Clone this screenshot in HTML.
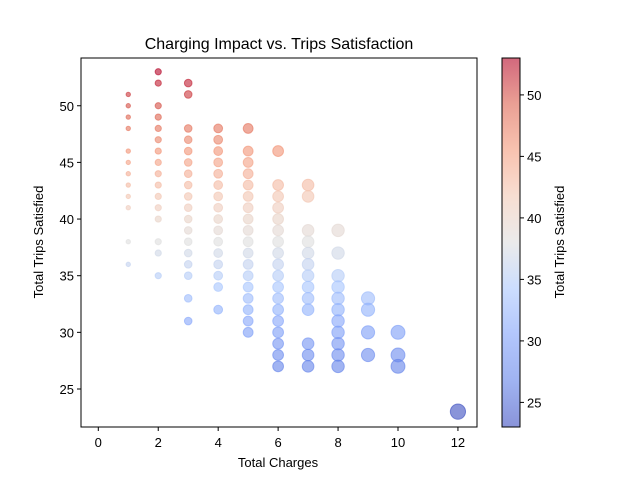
<!DOCTYPE html>
<html><head><meta charset="utf-8"><style>
body{margin:0;background:#fff;}
svg text{font-family:"Liberation Sans","DejaVu Sans",sans-serif;fill:#000;}
</style></head><body>
<svg id="chart" width="640" height="480" viewBox="0 0 640 480" xmlns="http://www.w3.org/2000/svg">
<defs><linearGradient id="cbg" x1="0" y1="1" x2="0" y2="0"></linearGradient></defs>
<text x="279" y="49" font-size="16" text-anchor="middle">Charging Impact vs. Trips Satisfaction</text>
<g id="points"></g>
<rect x="81" y="58" width="396" height="369" fill="none" stroke="#000" stroke-width="1"/>
<g id="axes"></g>
<text x="278" y="467" font-size="13" text-anchor="middle">Total Charges</text>
<text transform="translate(43,242) rotate(-90)" font-size="13" text-anchor="middle">Total Trips Satisfied</text>
<rect id="cbar" x="502" y="58" width="18" height="369" fill="url(#cbg)" stroke="#000" stroke-width="1"/>
<text transform="translate(564,242) rotate(-90)" font-size="13" text-anchor="middle">Total Trips Satisfied</text>
</svg>
<script>
const xTicks=[0,2,4,6,8,10,12];
const yTicks=[25,30,35,40,45,50];
const cbTicks=[25,30,35,40,45,50];
const charges1=[1,1,1,1,1,1,1,1,1,1,1,1];
const trips1=[51,50,49,48,46,45,44,43,42,41,38,36];
const charges2=[2,2,2,2,2,2,2,2,2,2,2,2,2,2,2,2];
const trips2=[53,52,50,49,48,47,46,45,44,43,42,41,40,38,37,35];
const charges3=[3,3,3,3,3,3,3,3,3,3,3,3,3,3,3,3,3,3];
const trips3=[52,51,48,47,46,45,44,43,42,41,40,39,38,37,36,35,33,31];
const charges4=[4,4,4,4,4,4,4,4,4,4,4,4,4,4,4,4];
const trips4=[48,47,46,45,44,43,42,41,40,39,38,37,36,35,34,32];
const charges5=[5,5,5,5,5,5,5,5,5,5,5,5,5,5,5,5,5,5];
const trips5=[48,46,45,44,43,42,41,40,39,38,37,36,35,34,33,32,31,30];
const charges6=[6,6,6,6,6,6,6,6,6,6,6,6,6,6,6,6,6,6];
const trips6=[46,43,42,41,40,39,38,37,36,35,34,33,32,31,30,29,28,27];
const charges7=[7,7,7,7,7,7,7,7,7,7,7,7,7];
const trips7=[43,42,39,38,37,36,35,34,33,32,29,28,27];
const charges8=[8,8,8,8,8,8,8,8,8,8,8];
const trips8=[39,37,35,34,33,32,31,30,29,28,27];
const charges9=[9,9,9,9];
const trips9=[33,32,30,28];
const charges10=[10,10,10];
const trips10=[30,28,27];
const charges12=[12];
const trips12=[23];
const cmin=23,cmax=53;
const NS="http://www.w3.org/2000/svg";
const xScale=v=>98.3+v*29.97;
const yScale=v=>389-(v-25)*11.33;
const cbScale=v=>427-(v-cmin)/(cmax-cmin)*369;
const stops=[[0,[59,76,192]],[0.125,[96,128,232]],[0.25,[127,160,249]],[0.375,[170,199,253]],[0.5,[221,221,221]],[0.625,[242,200,180]],[0.75,[244,154,123]],[0.875,[220,96,77]],[1,[180,4,38]]];
function cmap(t){t=Math.max(0,Math.min(1,t));for(let i=1;i<stops.length;i++){if(t<=stops[i][0]){const a=stops[i-1],b=stops[i],f=(t-a[0])/(b[0]-a[0]);const c=a[1].map((v,k)=>Math.round(v+(b[1][k]-v)*f));return `rgb(${c[0]},${c[1]},${c[2]})`;}}return 'rgb(180,4,38)';}
const grad=document.getElementById('cbg');
stops.forEach(s=>{const st=document.createElementNS(NS,'stop');st.setAttribute('offset',s[0]);st.setAttribute('stop-color',`rgb(${s[1].join(',')})`);st.setAttribute('stop-opacity','0.6');grad.appendChild(st);});
const pts=document.getElementById('points');
const groups=[[charges1,trips1],[charges2,trips2],[charges3,trips3],[charges4,trips4],[charges5,trips5],[charges6,trips6],[charges7,trips7],[charges8,trips8],[charges9,trips9],[charges10,trips10],[charges12,trips12]];
groups.forEach(([xs,ys])=>{xs.forEach((x,i)=>{const c=document.createElementNS(NS,'circle');


c.setAttribute('cx',xScale(x));c.setAttribute('cy',yScale(ys[i]));c.setAttribute('r',2.2*Math.sqrt(x));
const col=cmap((ys[i]-cmin)/(cmax-cmin));c.setAttribute('fill',col);c.setAttribute('fill-opacity','0.6');c.setAttribute('stroke',col);c.setAttribute('stroke-opacity','0.6');c.setAttribute('stroke-width','1');pts.appendChild(c);});});
const ax=document.getElementById('axes');
function line(x1,y1,x2,y2,name){const l=document.createElementNS(NS,'line');


l.setAttribute('x1',x1);l.setAttribute('y1',y1);l.setAttribute('x2',x2);l.setAttribute('y2',y2);l.setAttribute('stroke','#000');ax.appendChild(l);}
function text(x,y,s,anchor,name){const t=document.createElementNS(NS,'text');


t.setAttribute('x',x);t.setAttribute('y',y);t.setAttribute('font-size','13');t.setAttribute('text-anchor',anchor);t.textContent=s;ax.appendChild(t);}
xTicks.forEach(v=>{const x=xScale(v);line(x,427,x,431,'x-tick');text(x,447,v,'middle','x-tick-label');});
yTicks.forEach(v=>{const y=yScale(v);line(77,y,81,y,'y-tick');text(74,y+5,v,'end','y-tick-label');});
cbTicks.forEach(v=>{const y=cbScale(v);line(520,y,524,y,'colorbar-tick');text(527,y+5,v,'start','colorbar-tick-label');});
</script>
</body></html>
